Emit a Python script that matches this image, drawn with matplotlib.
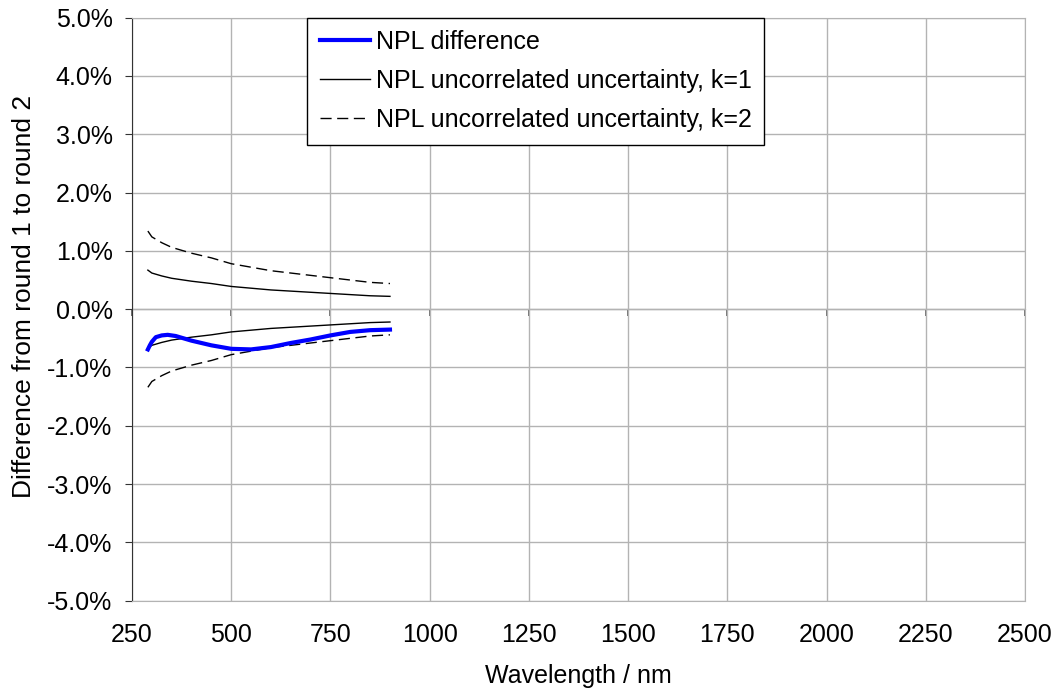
import numpy as np
import matplotlib.pyplot as plt
from matplotlib.ticker import FuncFormatter

plt.rcParams['font.family'] = ['Liberation Sans', 'DejaVu Sans']

# uncertainty wavelengths (nm) and k=1 uncertainty (%)
wl_unc = [290, 300, 325, 350, 400, 450, 500, 550, 600, 650, 700, 750, 800, 850, 900]
unc_k1 = [0.67, 0.62, 0.57, 0.53, 0.48, 0.44, 0.39, 0.36, 0.33, 0.31, 0.29, 0.27, 0.25, 0.23, 0.22]
unc_k2 = [1.34, 1.24, 1.14, 1.06, 0.96, 0.88, 0.78, 0.72, 0.66, 0.62, 0.58, 0.54, 0.50, 0.46, 0.44]

# NPL difference round 1 -> round 2 (%)
wl_diff = [290, 295, 300, 310, 325, 340, 360, 380, 400, 450, 500, 550, 600, 650, 700, 750, 800, 850, 900]
npl_diff = [-0.69, -0.62, -0.56, -0.48, -0.45, -0.44, -0.46, -0.50, -0.54, -0.62, -0.68, -0.69,
            -0.65, -0.58, -0.52, -0.45, -0.39, -0.36, -0.35]

x_ticks = [250, 500, 750, 1000, 1250, 1500, 1750, 2000, 2250, 2500]
y_ticks = [-5, -4, -3, -2, -1, 0, 1, 2, 3, 4, 5]

fig = plt.figure(figsize=(10.56, 6.93), dpi=100)
ax = fig.add_axes([0.125, 0.1332, 0.8456, 0.8413])

grid_c = '#b3b3b3'
fs = 18
ax.set_xlim(250, 2500)
ax.set_ylim(-5, 5)
ax.set_xticks(x_ticks)
ax.set_yticks(y_ticks)
ax.grid(True, color=grid_c, lw=1)
ax.set_axisbelow(True)
ax.yaxis.set_major_formatter(FuncFormatter(lambda v, p: '%.1f%%' % v))

for s in ['top', 'right', 'bottom']:
    ax.spines[s].set_color(grid_c)
ax.spines['left'].set_color('#333333')
ax.tick_params(axis='y', direction='out', length=5, color='#333333', labelsize=fs, pad=9)
ax.tick_params(axis='x', length=0, labelsize=fs, pad=16)

# x axis crossing at zero
sec = ax.secondary_xaxis(0.5)
sec.set_xticks(x_ticks)
sec.set_xticklabels([])
sec.tick_params(axis='x', bottom=True, top=False, labelbottom=False, labeltop=False,
                direction='out', length=5, width=1.2, color='#555555')
sec.spines['bottom'].set_color('black')
sec.spines['bottom'].set_linewidth(1.3)

ax.plot(wl_diff, npl_diff, color='#0000ff', lw=3, label='NPL difference', zorder=5)
ax.plot(wl_unc, unc_k1, color='black', lw=1, label='NPL uncorrelated uncertainty, k=1')
ax.plot(wl_unc, [-v for v in unc_k1], color='black', lw=1)
ax.plot(wl_unc, unc_k2, color='black', lw=1, dashes=(8, 4), label='NPL uncorrelated uncertainty, k=2')
ax.plot(wl_unc, [-v for v in unc_k2], color='black', lw=1, dashes=(8, 4))

leg = ax.legend(loc='upper left', bbox_to_anchor=(0.196, 1.0), fontsize=fs, frameon=True,
                fancybox=False, framealpha=1, edgecolor='black', handlelength=2.0,
                handletextpad=0.25, labelspacing=0.6, borderpad=0.5, borderaxespad=0)
leg.get_frame().set_linewidth(1)

ax.set_xlabel('Wavelength / nm', fontsize=fs, labelpad=12)
ax.set_ylabel('Difference from round 1 to round 2', fontsize=19)
ax.yaxis.set_label_coords(-0.107, 0.5226)

fig.savefig('out.png', dpi=100)
